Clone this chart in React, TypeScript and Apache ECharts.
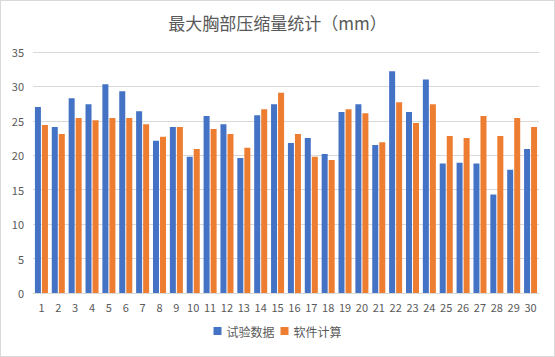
import React, { useEffect, useRef } from "react";
import * as echarts from "echarts";

const categories = Array.from({ length: 30 }, (_, i) => String(i + 1));
const testData = [27.0, 24.1, 28.3, 27.4, 30.3, 29.3, 26.4, 22.1, 24.1, 19.8, 25.7, 24.5, 19.6, 25.8, 27.4, 21.8, 22.5, 20.2, 26.3, 27.4, 21.5, 32.2, 26.3, 31.0, 18.8, 18.9, 18.8, 14.3, 17.9, 20.9];
const softwareData = [24.4, 23.1, 25.4, 25.1, 25.4, 25.4, 24.5, 22.7, 24.1, 20.9, 23.8, 23.1, 21.1, 26.7, 29.1, 23.1, 19.8, 19.3, 26.7, 26.1, 21.9, 27.7, 24.7, 27.4, 22.8, 22.5, 25.7, 22.8, 25.4, 24.1];
const seriesNames = ["试验数据", "软件计算"];
const titleText = "最大胸部压缩量统计（mm）";

export default function App() {
  const ref = useRef<HTMLDivElement>(null);
  useEffect(() => {
    if (!ref.current) return;
    const chart = echarts.init(ref.current, undefined, { renderer: "svg" });
    const font = "'Noto Sans CJK SC', 'Noto Sans', sans-serif";
    chart.setOption({
      animation: false,
      backgroundColor: "#ffffff",
      title: {
        text: titleText,
        left: "center",
        top: 8,
        textStyle: { fontFamily: font, fontSize: 17, fontWeight: "normal", color: "#595959" },
      },
      legend: {
        data: seriesNames,
        bottom: 14,
        left: "center",
        icon: "rect",
        itemWidth: 8,
        itemHeight: 8,
        itemGap: 6,
        textStyle: { fontFamily: font, fontSize: 12, color: "#595959" },
      },
      grid: { left: 32, right: 15, top: 51, bottom: 63 },
      xAxis: {
        type: "category",
        data: categories,
        axisLine: { lineStyle: { color: "#D9D9D9" } },
        axisTick: { show: false },
        axisLabel: { fontFamily: font, fontSize: 11, color: "#595959", margin: 8, interval: 0 },
      },
      yAxis: {
        type: "value",
        min: 0,
        max: 35,
        interval: 5,
        axisLine: { show: false },
        axisTick: { show: false },
        splitLine: { lineStyle: { color: "#D9D9D9" } },
        axisLabel: { fontFamily: font, fontSize: 11, color: "#595959", margin: 9 },
      },
      series: [
        { name: seriesNames[0], type: "bar", data: testData, barWidth: 6, barGap: "17%", itemStyle: { color: "#4472C4" } },
        { name: seriesNames[1], type: "bar", data: softwareData, barWidth: 6, barGap: "17%", itemStyle: { color: "#ED7D31" } },
      ],
    });
    return () => chart.dispose();
  }, []);
  return (
    <div
      ref={ref}
      style={{
        position: "fixed",
        left: 0,
        top: 0,
        width: 555,
        height: 357,
        boxSizing: "border-box",
        border: "1px solid #D9D9D9",
      }}
    />
  );
}
